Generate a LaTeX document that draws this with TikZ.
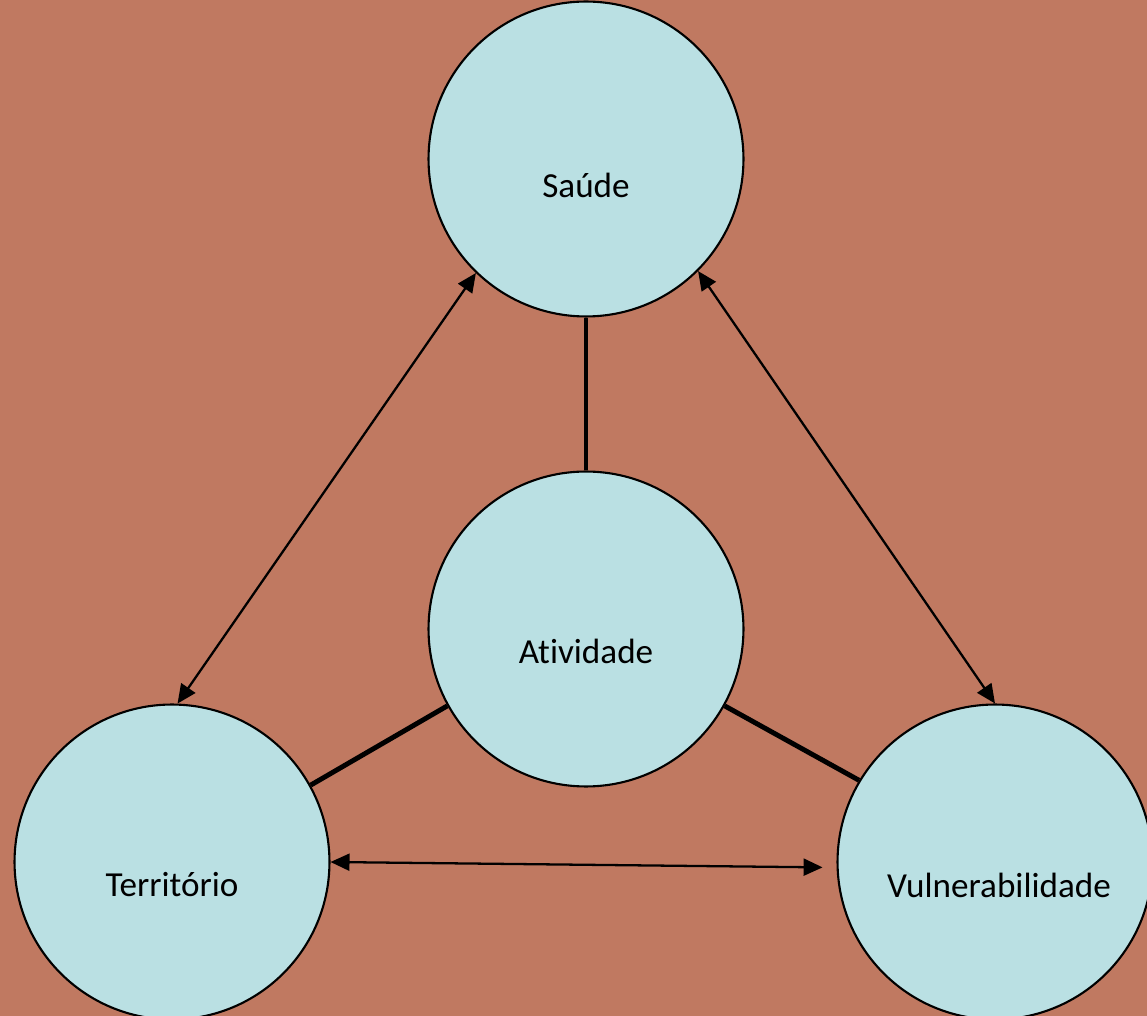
\documentclass[tikz,border=0pt]{standalone}
\usepackage{fontspec}
\setmainfont[Ligatures={NoCommon,NoDiscretionary}]{Carlito}
\usepackage{xcolor}
\usetikzlibrary{arrows.meta}

\definecolor{terra}{RGB}{192,121,97}
\definecolor{agua}{RGB}{186,224,227}

\tikzset{
	bola/.style={circle, draw=black, line width=1.2pt, fill=agua, minimum size=6.3cm, inner sep=0pt},
	rotulo/.style={font=\fontsize{20}{24}\selectfont},
	elo/.style={line width=2.8pt},
	seta/.style={line width=1.3pt, {Triangle[length=0.38cm,width=0.34cm]}-{Triangle[length=0.38cm,width=0.34cm]}}
}

\begin{document}
\begin{tikzpicture}[x=0.02cm, y=-0.02cm]
\fill[terra] (0,0) rectangle (1147,1016);
\useasboundingbox (0,0) rectangle (1147,1016);

% circulos
\node[bola, label={[rotulo, yshift=-0.52cm]center:Saúde}] (saude) at (586,159) {};
\node[bola, label={[rotulo, yshift=-0.44cm]center:Atividade}] (ativ) at (586,629) {};
\node[bola, label={[rotulo, yshift=-0.46cm]center:Território}] (terr) at (172,862) {};
\node[bola, label={[rotulo, yshift=-0.46cm, xshift=0.08cm]center:Vulnerabilidade}] (vuln) at (995,862) {};

% ligacoes com a atividade
\draw[elo] (saude.south) -- (ativ.north);
\draw[elo] (ativ.209) -- (terr.29);
\draw[elo] (ativ.331) -- (vuln.149);

% setas
\draw[seta] (saude.226) -- (terr.88);
\draw[seta] (saude.315) -- (vuln.90);
\draw[seta, shorten >=0.28cm] (terr.0) -- (vuln.182);
\end{tikzpicture}
\end{document}
